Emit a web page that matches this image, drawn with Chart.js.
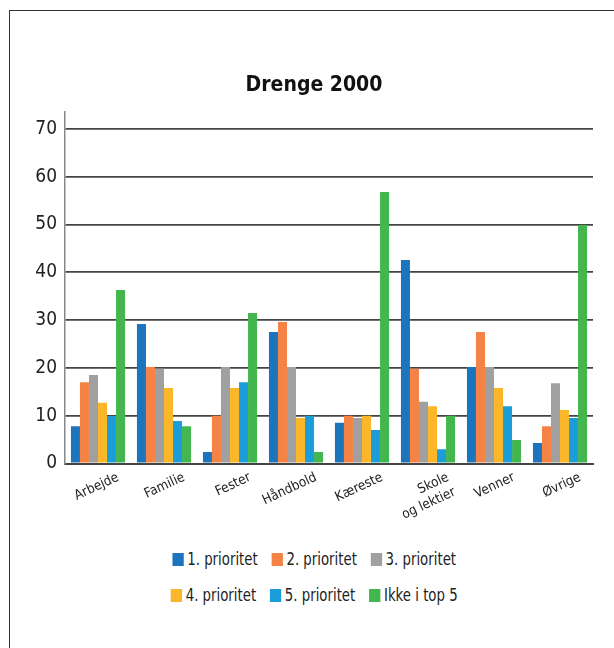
<!DOCTYPE html>
<html>
<head>
<meta charset="utf-8">
<script src="https://cdn.jsdelivr.net/npm/chart.js@4/dist/chart.umd.min.js"></script>
<style>
  html, body { margin: 0; padding: 0; background: #fff; }
  body { width: 614px; height: 648px; position: relative; overflow: hidden; }
  .frame { position: absolute; left: 8.5px; top: 10px; right: -10px; bottom: -10px;
           border-left: 1.5px solid #333; border-top: 1.5px solid #333; }
  .wrap { position: absolute; left: 0; top: 0; width: 614px; height: 540px; }
  #legend { position: absolute; left: 35px; width: 558px; top: 541px;
            font-family: 'Liberation Sans Narrow', 'DejaVu Sans Condensed', 'Roboto', sans-serif;
            font-size: 17px; color: #222; }
  #legend .row { display: flex; justify-content: center; height: 36px; align-items: center;
                 transform: scaleX(0.87); transform-origin: 281px 50%; }
  #legend .item { display: flex; align-items: center; margin: 0 8px; white-space: nowrap; }
  #legend .box { width: 13px; height: 13px; margin-right: 4px; }
</style>
</head>
<body>
<div class="frame"></div>
<div class="wrap"><canvas id="chart" width="614" height="540"></canvas></div>
<div id="legend"></div>
<script>
// Drenge 2000 – prioritering af fritidsområder (procent)
const categories = ['Arbejde', 'Familie', 'Fester', 'Håndbold', 'Kæreste', ['Skole', 'og lektier'], 'Venner', 'Øvrige'];
const seriesNames = ['1. prioritet', '2. prioritet', '3. prioritet', '4. prioritet', '5. prioritet', 'Ikke i top 5'];
const prioritet1 = [7.8, 29.2, 2.4, 27.5, 8.5, 42.6, 20.2, 4.3];
const prioritet2 = [17.0, 20.2, 10.0, 29.6, 10.0, 19.8, 27.5, 7.8];
const prioritet3 = [18.5, 19.8, 20.2, 20.2, 9.5, 12.9, 20.2, 16.8];
const prioritet4 = [12.7, 15.8, 15.8, 9.5, 10.0, 12.0, 15.8, 11.2];
const prioritet5 = [9.9, 8.9, 17.0, 10.0, 7.0, 3.0, 12.0, 9.5];
const ikkeTop5 = [36.3, 7.8, 31.5, 2.4, 56.8, 10.0, 4.9, 49.9];
const yTicks = [0, 10, 20, 30, 40, 50, 60, 70];

const colors = ['#1C75BC', '#F58345', '#A0A0A0', '#FBB62A', '#1B9DD9', '#43B74E'];
const seriesValues = [prioritet1, prioritet2, prioritet3, prioritet4, prioritet5, ikkeTop5];

const narrow = "'Liberation Sans Narrow', 'DejaVu Sans Condensed', 'Roboto', sans-serif";

const datasets = seriesNames.map((name, i) => ({
  label: name,
  data: seriesValues[i],
  backgroundColor: colors[i],
  borderWidth: 0,
  categoryPercentage: 0.82,
  barPercentage: 1.0
}));

const chart = new Chart(document.getElementById('chart'), {
  type: 'bar',
  data: { labels: categories, datasets },
  options: {
    responsive: false,
    animation: false,
    layout: { padding: { left: 35, right: 21, top: 61, bottom: 0 } },
    plugins: {
      legend: { display: false },
      tooltip: { enabled: false },
      title: {
        display: true,
        text: 'Drenge 2000',
        color: '#111',
        font: { family: narrow, size: 21, weight: 'bold' },
        padding: { top: 12, bottom: 14 }
      }
    },
    scales: {
      x: {
        grid: { display: false },
        border: { display: true, color: '#444', width: 2 },
        ticks: {
          color: '#222',
          font: { family: narrow, size: 13.5 },
          minRotation: 25,
          maxRotation: 25,
          padding: -2,
          labelOffset: 20,
          autoSkip: false
        },
        afterFit: (scale) => { scale.height = 76.5; }
      },
      y: {
        min: 0,
        max: 73.5,
        afterBuildTicks: (scale) => { scale.ticks = yTicks.map(v => ({ value: v })); },
        grid: { color: '#444', lineWidth: 1.8, drawTicks: false },
        border: { display: true, color: '#888', width: 1.5 },
        ticks: {
          color: '#222',
          font: { family: narrow, size: 19 },
          padding: 8
        },
        afterFit: (scale) => { scale.width = 30; }
      }
    }
  }
});

// Legend below the chart, two rows of three entries
const legend = document.getElementById('legend');
[[0, 1, 2], [3, 4, 5]].forEach(idx => {
  const row = document.createElement('div');
  row.className = 'row';
  idx.forEach(i => {
    const ds = chart.data.datasets[i];
    const item = document.createElement('div');
    item.className = 'item';
    const box = document.createElement('span');
    box.className = 'box';
    box.style.background = ds.backgroundColor;
    const txt = document.createElement('span');
    txt.textContent = ds.label;
    item.appendChild(box);
    item.appendChild(txt);
    row.appendChild(item);
  });
  legend.appendChild(row);
});
</script>
</body>
</html>
